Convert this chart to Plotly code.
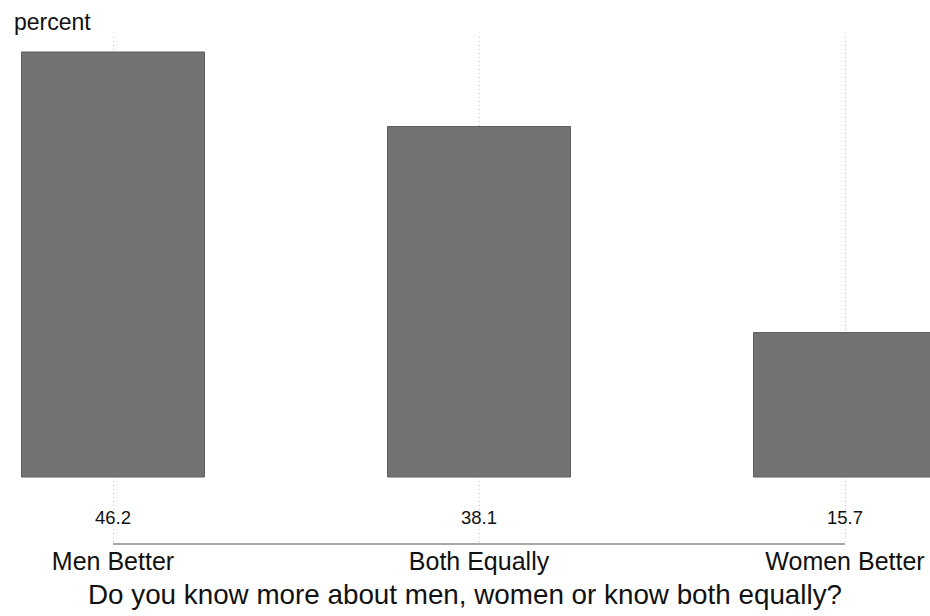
import plotly.graph_objects as go

categories = ["Men Better", "Both Equally", "Women Better"]
percent = [46.2, 38.1, 15.7]
value_labels = ["46.2", "38.1", "15.7"]
x_title = "Do you know more about men, women or know both equally?"
y_title = "percent"

FONT = "Liberation Sans, Arial, Helvetica, sans-serif"

xpos = list(range(len(categories)))

fig = go.Figure()
fig.add_trace(go.Bar(
    x=xpos, y=percent, width=0.5,
    marker=dict(color="#737373", line=dict(color="#5e5e5e", width=1)),
    hoverinfo="skip",
))

for xi, lab in zip(xpos, value_labels):
    fig.add_annotation(x=xi, y=0, xref="x", yref="y", text=lab, showarrow=False,
                       yanchor="middle", yshift=-40,
                       font=dict(family=FONT, size=18.5, color="#111111"))

# axis line spanning first to last category
fig.add_shape(type="line", xref="x", yref="paper", x0=xpos[0], x1=xpos[-1], y0=0, y1=0,
              line=dict(color="#8a8a8a", width=1.5))

fig.add_annotation(x=0, y=1, xref="paper", yref="paper", text=y_title, showarrow=False,
                   xanchor="left", yanchor="middle", xshift=12, yshift=15,
                   font=dict(family=FONT, size=23, color="#111111"))

fig.add_annotation(x=0.5, y=0, xref="paper", yref="paper", text=x_title, showarrow=False,
                   xanchor="center", yanchor="middle", yshift=-50,
                   font=dict(family=FONT, size=27.8, color="#111111"))

fig.update_layout(
    width=930, height=616,
    margin=dict(l=0, r=0, t=37, b=72, pad=0),
    paper_bgcolor="white", plot_bgcolor="white",
    showlegend=False,
    xaxis=dict(
        range=[-113/366, 817/366],
        tickmode="array", tickvals=xpos, ticktext=categories,
        showgrid=True, gridcolor="#c8c8c8", griddash="1px,3px", gridwidth=1,
        showline=False, zeroline=False, ticks="",
        tickfont=dict(family=FONT, size=25, color="#111111"),
        ticklabelstandoff=0,
        automargin=False,
    ),
    yaxis=dict(
        range=[-7.283, 47.83],
        showgrid=False, zeroline=False, showline=False,
        showticklabels=False, ticks="",
        automargin=False,
    ),
)

fig.write_html("out.html", config={"displayModeBar": False},
               post_script="document.body.style.margin='0px';document.body.style.overflow='hidden';")
